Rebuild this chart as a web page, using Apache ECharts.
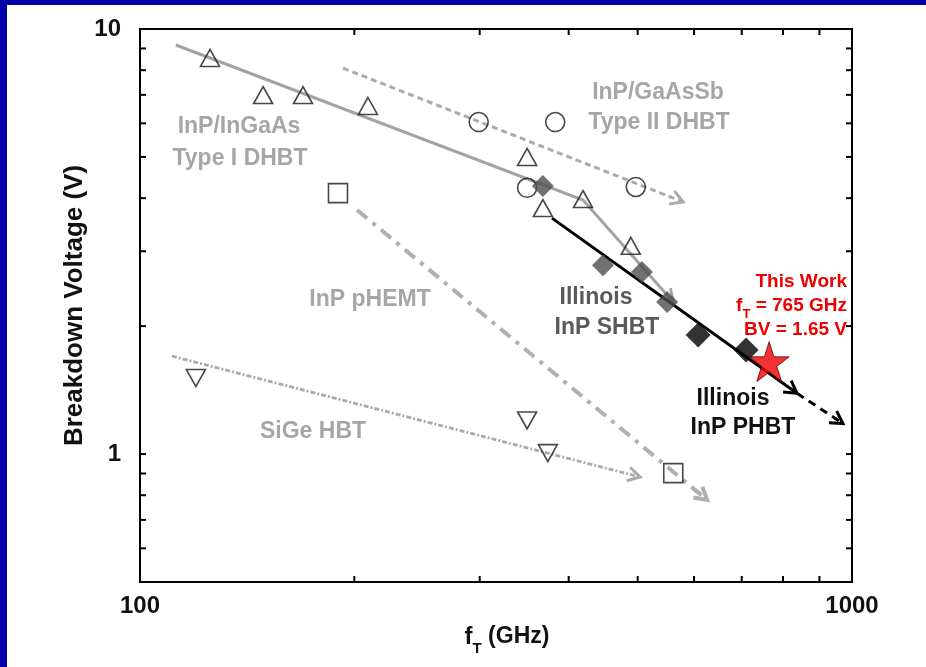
<!DOCTYPE html>
<html>
<head>
<meta charset="utf-8">
<script src="https://cdn.jsdelivr.net/npm/echarts@6/dist/echarts.min.js"></script>
<style>
html,body{margin:0;padding:0;background:#0000a8;width:926px;height:667px;overflow:hidden;}
#c{position:absolute;left:7px;top:5px;width:919px;height:662px;background:#fff;}
</style>
</head>
<body>
<div id="c"></div>
<script>
// ---- measured points (fT in GHz, breakdown voltage in V) ----
const inGaAsF = [125.4, 148.9, 169.4, 209, 349.7, 368, 419, 489];
const inGaAsV = [8.55, 6.99, 6.99, 6.59, 5.0, 3.79, 3.98, 3.09];
const gaAsSbF = [299, 383, 349.7, 497];
const gaAsSbV = [6.04, 6.04, 4.23, 4.25];
const phemtF = [189.7, 561];
const phemtV = [4.11, 0.902];
const sigeF = [119.8, 349.7, 374];
const sigeV = [1.51, 1.20, 1.005];
const shbtF = [368, 447, 507, 550];
const shbtV = [4.27, 2.78, 2.68, 2.28];
const phbtF = [608, 710];
const phbtV = [1.905, 1.757];
const thisWorkF = [765];
const thisWorkV = [1.65];

// ---- trend lines ----
const trendInGaAsF = [112.3, 419, 561];
const trendInGaAsV = [9.17, 3.96, 2.28];
const trendGaAsSbF = [192.8, 579];
const trendGaAsSbV = [8.09, 3.92];
const trendPhemtF = [201.8, 626];
const trendPhemtV = [3.75, 0.78];
const trendSigeF = [110.9, 504];
const trendSigeV = [1.70, 0.883];
const trendPhbtSolidF = [379, 837];
const trendPhbtSolidV = [3.59, 1.39];
const trendPhbtDashF = [837, 971];
const trendPhbtDashV = [1.39, 1.18];

// ---- axis ticks ----
const xTicks = [200, 300, 400, 500, 600, 700, 800, 900];
const yTicks = [0.6, 0.7, 0.8, 0.9, 1, 2, 3, 4, 5, 6, 7, 8, 9];
const xLabels = [100, 1000];
const yLabels = [1, 10];

const FONT = '"Liberation Sans", Arial, sans-serif';
const zip = (a, b) => a.map((v, i) => [v, b[i]]);

function trendSeries(fs, vs, color, width, dash, arrow) {
  return {
    type: 'custom', coordinateSystem: 'cartesian2d', silent: true, z: 2,
    data: [[fs[0], vs[0]]],
    renderItem: function (params, api) {
      const pts = fs.map((f, i) => api.coord([f, vs[i]]));
      const children = [{
        type: 'polyline', shape: { points: pts },
        style: { stroke: color, lineWidth: width, lineDash: dash, fill: null }
      }];
      if (arrow) {
        const p1 = pts[pts.length - 1], p0 = pts[pts.length - 2];
        const a = Math.atan2(p1[1] - p0[1], p1[0] - p0[0]);
        const L = 14, th = Math.PI / 6;
        const l = [p1[0] - L * Math.cos(a - th), p1[1] - L * Math.sin(a - th)];
        const r = [p1[0] - L * Math.cos(a + th), p1[1] - L * Math.sin(a + th)];
        children.push({
          type: 'polyline', shape: { points: [l, p1, r] },
          style: { stroke: color, lineWidth: width, fill: null }
        });
      }
      return { type: 'group', children: children };
    }
  };
}

function tickSeries() {
  return {
    type: 'custom', coordinateSystem: 'cartesian2d', silent: true, z: 5,
    data: [[200, 1]],
    renderItem: function (params, api) {
      const cs = params.coordSys;
      const T = 6;
      const ch = [];
      const st = { stroke: '#000', lineWidth: 2 };
      xTicks.forEach(v => {
        const x = api.coord([v, 1])[0];
        ch.push({ type: 'line', shape: { x1: x, y1: cs.y + cs.height, x2: x, y2: cs.y + cs.height - T }, style: st });
        ch.push({ type: 'line', shape: { x1: x, y1: cs.y, x2: x, y2: cs.y + T }, style: st });
      });
      yTicks.forEach(v => {
        const y = api.coord([200, v])[1];
        ch.push({ type: 'line', shape: { x1: cs.x, y1: y, x2: cs.x + T, y2: y }, style: st });
        ch.push({ type: 'line', shape: { x1: cs.x + cs.width, y1: y, x2: cs.x + cs.width - T, y2: y }, style: st });
      });
      return { type: 'group', children: ch };
    }
  };
}

function openMarker(data, symbol, size, rotate) {
  return {
    type: 'scatter', data: data, symbol: symbol, symbolSize: size, symbolRotate: rotate || 0, z: 4,
    itemStyle: { color: 'rgba(255,255,255,0)', borderColor: '#1a1a1a', borderWidth: 1.6 },
    emphasis: { disabled: true }
  };
}

const STAR = 'path://M50,0 L61.2,34.5 L97.6,34.5 L68.2,55.9 L79.4,90.5 L50,69.1 L20.6,90.5 L31.8,55.9 L2.4,34.5 L38.8,34.5 Z';

const chart = echarts.init(document.getElementById('c'), null, { renderer: 'canvas' });
const isPow10 = v => Math.abs(Math.log10(v) - Math.round(Math.log10(v))) < 1e-6;

const gray = '#a6a6a6';
function label(text, x, y, color, size) {
  return {
    type: 'text', x: x, y: y, z: 10,
    style: { text: text, fill: color, font: 'bold ' + size + 'px ' + FONT, textAlign: 'center', textVerticalAlign: 'middle' }
  };
}

chart.setOption({
  animation: false,
  backgroundColor: '#fff',
  grid: { left: 133, top: 24, right: 74, bottom: 85, show: true, borderColor: '#000', borderWidth: 2, backgroundColor: '#fff' },
  xAxis: {
    type: 'log', logBase: 10, min: 100, max: 1000,
    axisLine: { show: false }, axisTick: { show: false }, splitLine: { show: false },
    axisLabel: {
      fontFamily: FONT, fontWeight: 'bold', fontSize: 24, color: '#111', margin: 12,
      formatter: v => (isPow10(v) && xLabels.indexOf(Math.round(v)) >= 0) ? String(Math.round(v)) : ''
    },
    name: '{f|f}{t|T}{g| (GHz)}', nameLocation: 'middle', nameGap: 36,
    nameTextStyle: {
      padding: [0, 0, 0, 22],
      rich: {
        f: { fontFamily: FONT, fontWeight: 'bold', fontSize: 24, color: '#111', lineHeight: 38, verticalAlign: 'middle' },
        t: { fontFamily: FONT, fontWeight: 'bold', fontSize: 15, color: '#111', lineHeight: 38, verticalAlign: 'bottom' },
        g: { fontFamily: FONT, fontWeight: 'bold', fontSize: 23, color: '#111', lineHeight: 38, verticalAlign: 'middle' }
      }
    }
  },
  yAxis: {
    type: 'log', logBase: 10, min: 0.5, max: 10,
    axisLabel: {
      fontFamily: FONT, fontWeight: 'bold', fontSize: 24, color: '#111', margin: 19,
      formatter: v => (isPow10(v) && yLabels.indexOf(Math.round(v)) >= 0) ? String(Math.round(v)) : ''
    },
    axisLine: { show: false }, axisTick: { show: false }, splitLine: { show: false },
    name: 'Breakdown Voltage (V)', nameLocation: 'middle', nameGap: 52, nameRotate: 90,
    nameMoveOverlap: false,
    nameTextStyle: { fontFamily: FONT, fontWeight: 'bold', fontSize: 26, color: '#111' }
  },
  graphic: [
    label('InP/InGaAs', 232, 122, gray, 23),
    label('Type I DHBT', 233, 154, gray, 23),
    label('InP/GaAsSb', 651, 88, gray, 23),
    label('Type II DHBT', 652, 118, gray, 23),
    label('InP pHEMT', 363, 295, gray, 23),
    label('SiGe HBT', 306, 427, gray, 23),
    label('Illinois', 589, 293, '#5a5a5a', 23),
    label('InP SHBT', 600, 323, '#5a5a5a', 23),
    label('Illinois', 726, 394, '#111', 23),
    label('InP PHBT', 736, 423, '#111', 23),
    {
      type: 'text', x: 840, y: 277, z: 10,
      style: { text: 'This Work', fill: '#ee0000', font: 'bold 19px ' + FONT, textAlign: 'right', textVerticalAlign: 'middle' }
    },
    {
      type: 'text', x: 840, y: 301, z: 10,
      style: {
        text: '{a|f}{b|T}{a| = 765 GHz}', textAlign: 'right', textVerticalAlign: 'middle',
        rich: {
          a: { fill: '#ee0000', fontFamily: FONT, fontWeight: 'bold', fontSize: 19, lineHeight: 30, verticalAlign: 'middle' },
          b: { fill: '#ee0000', fontFamily: FONT, fontWeight: 'bold', fontSize: 13, lineHeight: 30, verticalAlign: 'bottom' }
        }
      }
    },
    {
      type: 'text', x: 840, y: 325, z: 10,
      style: { text: 'BV = 1.65 V', fill: '#ee0000', font: 'bold 19px ' + FONT, textAlign: 'right', textVerticalAlign: 'middle' }
    }
  ],
  series: [
    tickSeries(),
    trendSeries(trendInGaAsF, trendInGaAsV, '#a3a3a3', 3, null, true),
    trendSeries(trendGaAsSbF, trendGaAsSbV, '#ababab', 3, [6, 4], true),
    trendSeries(trendPhemtF, trendPhemtV, '#b0b0b0', 4, [13, 7, 4, 7], true),
    trendSeries(trendSigeF, trendSigeV, '#ababab', 3, [5, 2, 2, 2], true),
    trendSeries(trendPhbtSolidF, trendPhbtSolidV, '#000', 3, null, true),
    trendSeries(trendPhbtDashF, trendPhbtDashV, '#000', 3, [8, 6], true),
    openMarker(zip(inGaAsF, inGaAsV), 'triangle', [19, 17]),
    openMarker(zip(gaAsSbF, gaAsSbV), 'circle', 19),
    openMarker(zip(phemtF, phemtV), 'rect', 19),
    openMarker(zip(sigeF, sigeV), 'triangle', [19, 17], 180),
    {
      type: 'scatter', data: zip(shbtF, shbtV), symbol: 'diamond', symbolSize: 22, z: 4,
      itemStyle: { color: '#4d4d4d' }, emphasis: { disabled: true }
    },
    {
      type: 'scatter', data: zip(phbtF, phbtV), symbol: 'diamond', symbolSize: 25, z: 4,
      itemStyle: { color: '#000' }, emphasis: { disabled: true }
    },
    {
      type: 'scatter', data: zip(thisWorkF, thisWorkV), symbol: STAR, symbolSize: 40, z: 6,
      itemStyle: { color: '#f00000', borderColor: '#5a0000', borderWidth: 1 }, emphasis: { disabled: true }
    }
  ]
});
</script>
</body>
</html>
